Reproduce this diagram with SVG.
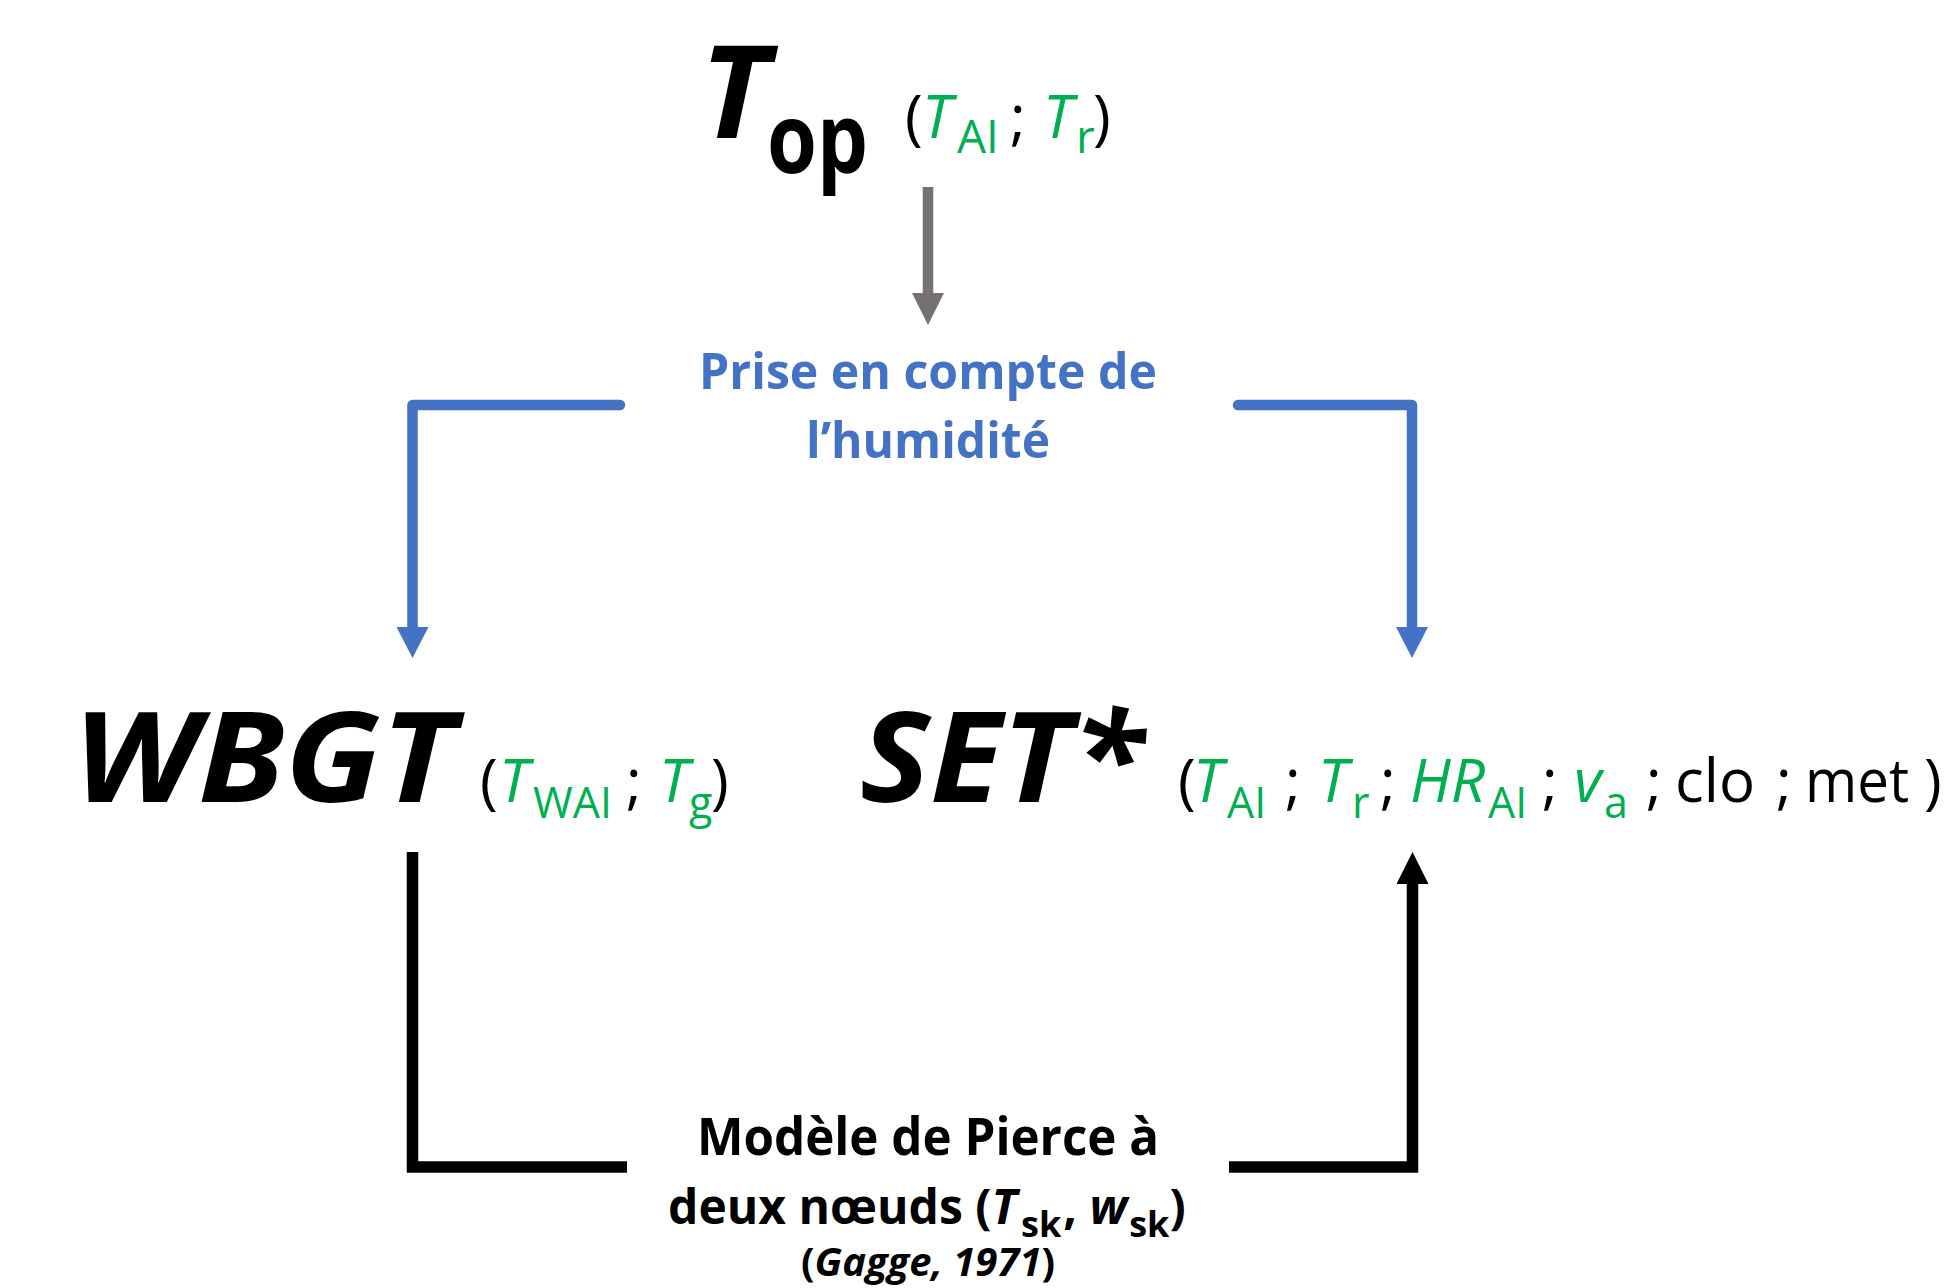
<svg xmlns="http://www.w3.org/2000/svg" width="1947" height="1288" viewBox="0 0 1947 1288">
<style>
  text{font-family:"Open Sans","Liberation Sans",sans-serif;fill:#000}
  .b{font-weight:700}
  .i{font-style:italic}
  .g{fill:#00B050}
  .bl{fill:#4472C4}
  .cb{fill:none;stroke:#4472C4;stroke-width:10.5;stroke-linecap:round;stroke-linejoin:round}
  .ck{fill:none;stroke:#000;stroke-width:11.5;stroke-linecap:butt;stroke-linejoin:miter}
  .cg{fill:none;stroke:#767171;stroke-width:10.5}
</style>
<defs>
  <marker id="mb" markerUnits="userSpaceOnUse" markerWidth="32" markerHeight="32" viewBox="0 0 32 32" refX="0" refY="16" orient="auto"><path d="M0,0 L31,16 L0,32 Z" fill="#4472C4"/></marker>
  <marker id="mk" markerUnits="userSpaceOnUse" markerWidth="32" markerHeight="32" viewBox="0 0 32 32" refX="0" refY="16" orient="auto"><path d="M0,0 L32,16 L0,32 Z" fill="#000"/></marker>
  <marker id="mg" markerUnits="userSpaceOnUse" markerWidth="32" markerHeight="32" viewBox="0 0 32 32" refX="0" refY="16" orient="auto"><path d="M0,0 L32,16 L0,32 Z" fill="#767171"/></marker>
</defs>
<rect width="1947" height="1288" fill="#fff"/>

<g id="connectors">
  <path class="cg" d="M928,187 V293" marker-end="url(#mg)"/>
  <path class="cb" d="M620,405 H412.5 V627" marker-end="url(#mb)"/>
  <path class="cb" d="M1238,405 H1412 V627" marker-end="url(#mb)"/>
  <path class="ck" d="M412.5,852 V1167 H627"/>
  <path class="ck" d="M1229,1167 H1412.5 V884" marker-end="url(#mk)"/>
</g>

<g id="node-top">
  <text class="b i" x="700" y="138" font-size="130">T</text>
  <text class="b" x="767" y="173" font-size="96" textLength="101" lengthAdjust="spacingAndGlyphs">op</text>
  <text font-size="60" y="138"><tspan x="905">(</tspan><tspan class="i g" x="922">T</tspan><tspan class="g" x="957" y="153" font-size="46">AI</tspan><tspan x="1010" y="138">;</tspan><tspan class="i g" x="1043">T</tspan><tspan class="g" x="1076" y="153" font-size="46">r</tspan><tspan x="1093" y="138">)</tspan></text>
</g>

<g id="label-humidite">
  <text class="b bl" font-size="50" x="699" y="389" textLength="458" lengthAdjust="spacingAndGlyphs">Prise en compte de</text>
  <text class="b bl" font-size="50" x="806" y="458" textLength="244" lengthAdjust="spacingAndGlyphs">l’humidité</text>
</g>

<g id="node-wbgt">
  <text class="b i" font-size="126" x="73" y="802" textLength="382" lengthAdjust="spacingAndGlyphs">WBGT</text>
  <text font-size="60" y="802"><tspan x="480">(</tspan><tspan class="i g" x="499">T</tspan><tspan class="g" x="533" y="818" font-size="43">WAI</tspan><tspan x="626" y="802">;</tspan><tspan class="i g" x="659">T</tspan><tspan class="g" x="689" y="818" font-size="43">g</tspan><tspan x="711" y="802">)</tspan></text>
</g>

<g id="node-set">
  <text class="b i" font-size="126" x="860" y="802" textLength="284" lengthAdjust="spacingAndGlyphs">SET*</text>
  <text font-size="60" y="802"><tspan x="1178">(</tspan><tspan class="i g" x="1193">T</tspan><tspan class="g" x="1227" y="818" font-size="43">AI</tspan><tspan x="1285" y="802">;</tspan><tspan class="i g" x="1318">T</tspan><tspan class="g" x="1352" y="818" font-size="43">r</tspan><tspan x="1380" y="802">;</tspan><tspan class="i g" x="1410">HR</tspan><tspan class="g" x="1488" y="818" font-size="43">AI</tspan><tspan x="1542" y="802">;</tspan><tspan class="i g" x="1574">v</tspan><tspan class="g" x="1604" y="818" font-size="43">a</tspan><tspan x="1646" y="802">;</tspan><tspan x="1675">clo</tspan><tspan x="1776">;</tspan><tspan x="1805" textLength="104" lengthAdjust="spacingAndGlyphs">met</tspan><tspan x="1924">)</tspan></text>
</g>

<g id="label-pierce">
  <text class="b" font-size="52" x="697" y="1155" textLength="462" lengthAdjust="spacingAndGlyphs">Modèle de Pierce à</text>
  <text class="b" font-size="48" x="668" y="1224">deux nœuds (<tspan class="i">T</tspan><tspan font-size="36" dx="4" dy="13">sk</tspan><tspan dx="2" dy="-13">, </tspan><tspan class="i">w</tspan><tspan font-size="36" dx="2" dy="13">sk</tspan><tspan dy="-13">)</tspan></text>
  <text class="b" font-size="40" x="928" y="1276" text-anchor="middle">(<tspan class="i">Gagge, 1971</tspan>)</text>
</g>
</svg>
